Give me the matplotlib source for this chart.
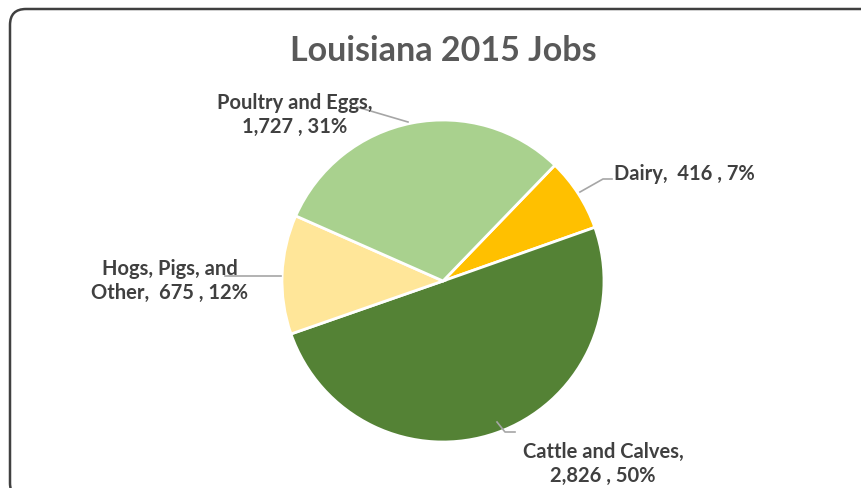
import matplotlib
matplotlib.use("Agg")
import matplotlib.pyplot as plt
from matplotlib.patches import FancyBboxPatch

plt.rcParams['font.family'] = ['Lato', 'DejaVu Sans']

# Data
categories = ["Dairy", "Cattle and Calves", "Hogs, Pigs, and Other", "Poultry and Eggs"]
jobs = [416, 2826, 675, 1727]
percents = [7, 50, 12, 31]
colors = ["#FFC000", "#548235", "#FFE699", "#A9D18E"]
title = "Louisiana 2015 Jobs"

W, H = 862, 489
fig = plt.figure(figsize=(W / 100, H / 100), dpi=100)
ax = fig.add_axes([0, 0, 1, 1])

def Y(y):
    return H - y

# rounded chart frame
frame = FancyBboxPatch((10, Y(500)), 870, 490,
                       boxstyle="round,pad=0,rounding_size=16",
                       facecolor="white", edgecolor="#404040", linewidth=1.8,
                       zorder=0)
ax.add_patch(frame)

cx, cy, r = 443, Y(282), 161
ax.pie(jobs, colors=colors, startangle=46, counterclock=False,
       center=(cx, cy), radius=r,
       wedgeprops=dict(edgecolor="white", linewidth=2))

ax.set_xlim(0, W)
ax.set_ylim(0, H)
ax.set_aspect("equal")
ax.set_axis_off()

ax.text(443, Y(51), title, ha="center", va="center", fontsize=24.5,
        fontweight="bold", color="#595959")

lab_kw = dict(fontsize=14.5, fontweight="bold", color="#404040",
              va="center", ha="center", multialignment="center",
              linespacing=1.3)
line_kw = dict(color="#A6A6A6", linewidth=1.2)

def fmt(i):
    return f"{jobs[i]:,} , {percents[i]}%"

# Dairy
ax.text(614, Y(174), f"{categories[0]},  {fmt(0)}", **{**lab_kw, "ha": "left"})
ax.plot([580, 603, 612], [Y(193), Y(180), Y(180)], **line_kw)

# Cattle and Calves
ax.text(603, Y(464), f"{categories[1]},\n{fmt(1)}", **lab_kw)
ax.plot([497, 505, 515], [Y(423), Y(433), Y(433)], **line_kw)

# Hogs, Pigs, and Other
ax.text(170, Y(281), "Hogs, Pigs, and\nOther,  " + fmt(2), **lab_kw)
ax.plot([225, 281], [Y(277), Y(277)], **line_kw)

# Poultry and Eggs
ax.text(295, Y(115), f"{categories[3]},\n{fmt(3)}", **lab_kw)
ax.plot([357, 408], [Y(108), Y(123)], **line_kw)

fig.savefig("out.png", dpi=100)
